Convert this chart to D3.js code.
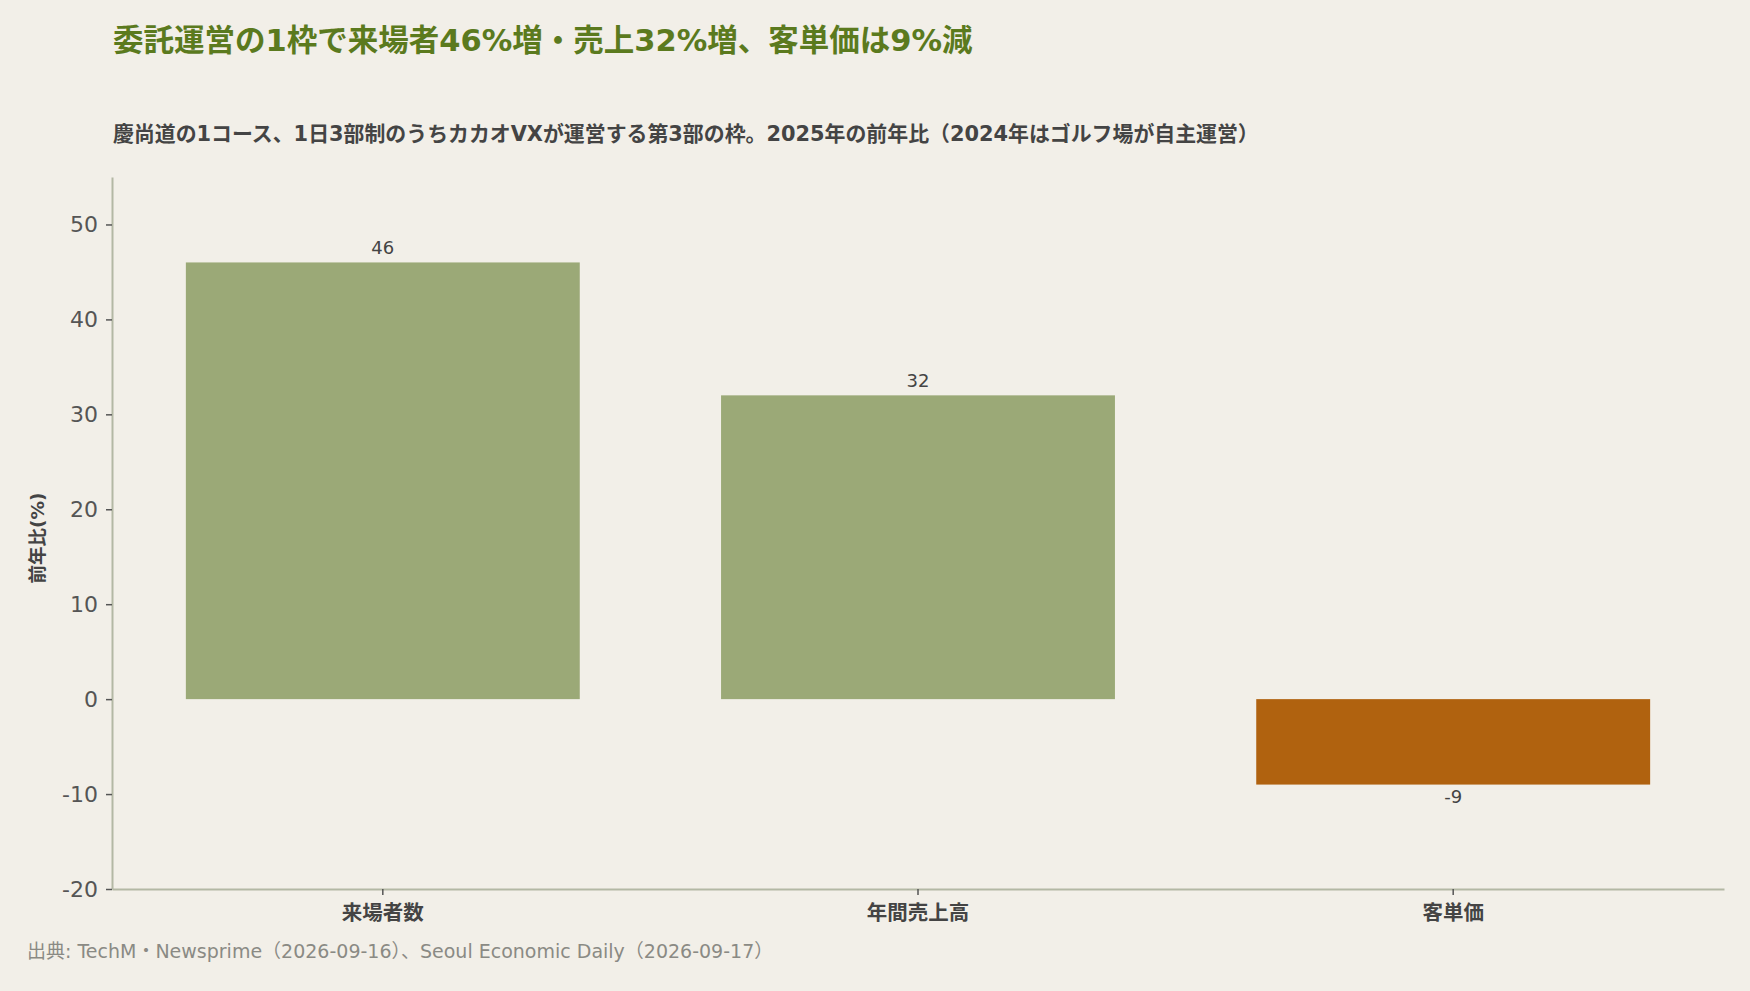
<!DOCTYPE html>
<html>
<head>
<meta charset="utf-8">
<script src="https://cdn.jsdelivr.net/npm/d3@7"></script>
<style>
  html, body { margin: 0; padding: 0; background: #f2efe8; }
  svg { display: block; font-family: "DejaVu Sans", "Noto Sans CJK JP", sans-serif; }
</style>
</head>
<body>
<svg id="chart" width="1750" height="991"></svg>
<script>
const categories = ["来場者数", "年間売上高", "客単価"];
const values = [46, 32, -9];
const yTicks = [-20, -10, 0, 10, 20, 30, 40, 50];

const titleText = "委託運営の1枠で来場者46%増・売上32%増、客単価は9%減";
const subtitleText = "慶尚道の1コース、1日3部制のうちカカオVXが運営する第3部の枠。2025年の前年比（2024年はゴルフ場が自主運営）";
const yLabel = "前年比(%)";
const sourceText = "出典: TechM・Newsprime（2026-09-16）、Seoul Economic Daily（2026-09-17）";

const W = 1750, H = 991;
const margin = { left: 112, right: 26, top: 177, bottom: 102 };

const svg = d3.select("#chart");
svg.append("rect").attr("width", W).attr("height", H).attr("fill", "#f2efe8");

const x = d3.scaleBand()
  .domain(categories)
  .range([margin.left, W - margin.right])
  .paddingInner(0.264)
  .paddingOuter(0.138);

const y = d3.scaleLinear()
  .domain([-20, 55])
  .range([H - margin.bottom, margin.top]);

// bars
svg.append("g")
  .selectAll("rect")
  .data(values)
  .join("rect")
  .attr("x", (d, i) => x(categories[i]))
  .attr("width", x.bandwidth())
  .attr("y", d => y(Math.max(0, d)))
  .attr("height", d => Math.abs(y(d) - y(0)))
  .attr("fill", d => d >= 0 ? "#9ba977" : "#b0620f");

// value labels
svg.append("g")
  .selectAll("text")
  .data(values)
  .join("text")
  .attr("x", (d, i) => x(categories[i]) + x.bandwidth() / 2)
  .attr("y", d => d >= 0 ? y(d) - 8 : y(d) + 18)
  .attr("text-anchor", "middle")
  .attr("font-size", 18)
  .attr("fill", "#444")
  .text(d => String(d));

// y axis
const yAxis = svg.append("g")
  .attr("transform", `translate(${margin.left},0)`)
  .call(d3.axisLeft(y).tickValues(yTicks).tickFormat(d => String(d))
    .tickSize(6).tickPadding(8).tickSizeOuter(0));
yAxis.select(".domain").attr("stroke", "#b3b8a4").attr("stroke-width", 2);
yAxis.selectAll(".tick line").attr("stroke", "#555").attr("stroke-width", 1.5);
yAxis.selectAll(".tick text")
  .attr("font-family", "'DejaVu Sans', sans-serif")
  .attr("font-size", 22)
  .attr("fill", "#555");

// x axis
const xAxis = svg.append("g")
  .attr("transform", `translate(0,${y(-20)})`)
  .call(d3.axisBottom(x).tickSize(6).tickPadding(10).tickSizeOuter(0));
xAxis.select(".domain").attr("stroke", "#b3b8a4").attr("stroke-width", 2);
xAxis.selectAll(".tick line").attr("stroke", "#555").attr("stroke-width", 1.5);
xAxis.selectAll(".tick text")
  .attr("font-family", "'Noto Sans CJK JP', sans-serif")
  .attr("font-size", 20.5)
  .attr("font-weight", "bold")
  .attr("fill", "#444");

// y label
svg.append("text")
  .attr("transform", `translate(44,${(y(55) + y(-20)) / 2 + 5}) rotate(-90)`)
  .attr("text-anchor", "middle")
  .attr("font-size", 18.5)
  .attr("font-weight", "bold")
  .attr("fill", "#444")
  .text(yLabel);

// title, subtitle, source
svg.append("text")
  .attr("x", 113).attr("y", 51)
  .attr("font-size", 30.5)
  .attr("font-weight", "bold")
  .attr("fill", "#5b7a1e")
  .text(titleText);

svg.append("text")
  .attr("x", 113).attr("y", 141)
  .attr("font-size", 20.9)
  .attr("font-weight", "bold")
  .attr("fill", "#444")
  .text(subtitleText);

svg.append("text")
  .attr("x", 27).attr("y", 958)
  .attr("font-size", 19)
  .attr("fill", "#8a8a84")
  .text(sourceText);
</script>
</body>
</html>
